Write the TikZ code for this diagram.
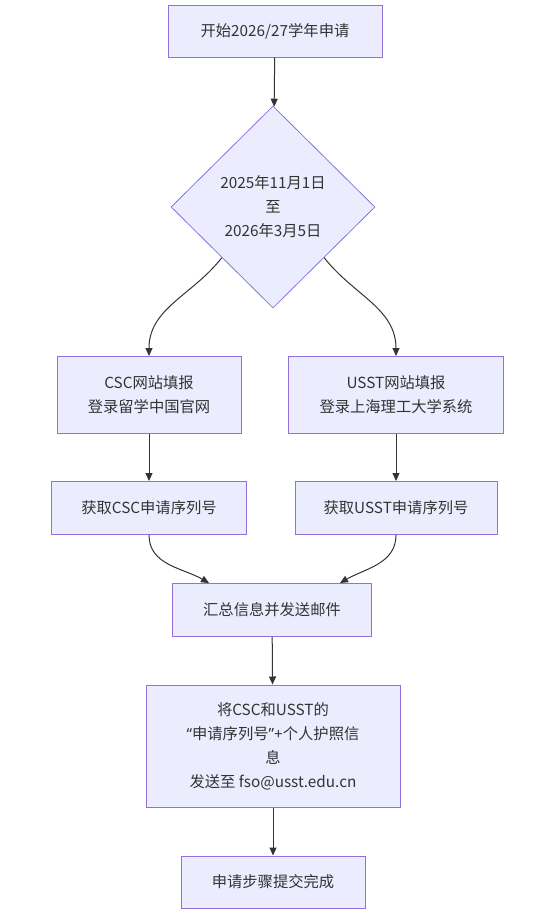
\documentclass[tikz,border=0pt]{standalone}
\usepackage{fontspec}
\setmainfont{Noto Sans CJK SC}
\newfontfamily\quotefont{Noto Sans}
\usetikzlibrary{arrows.meta,shapes.geometric}

\begin{document}
\begin{tikzpicture}[x=1pt,y=1pt,
  >={Triangle[length=8pt,width=7pt]},
  font=\fontsize{15.3}{24}\selectfont,
  process/.style={draw=boxline,fill=boxfill,line width=1pt,text=ink,
    minimum height=53pt,inner sep=0pt,align=center},
  decision/.style={diamond,draw=boxline,fill=boxfill,line width=0.8pt,text=ink,
    minimum width=204pt,minimum height=202pt,inner sep=0pt,align=center},
  flow/.style={->,draw=ink,line width=1pt}]
\definecolor{boxfill}{RGB}{236,236,255}
\definecolor{boxline}{RGB}{147,112,219}
\definecolor{ink}{RGB}{51,51,51}

\useasboundingbox (0,0) rectangle (543,-916);
\fill[white] (0,0) rectangle (543,-916);

% Start, date window and the two portals.
\node[process,minimum width=214pt,minimum height=52pt] (start) at (275,-31) {开始2026/27学年申请};
\node[decision] (window) at (273,-207) {2025年11月1日\\至\\2026年3月5日};
\node[process,minimum width=184pt,minimum height=77pt] (csc) at (149,-395) {CSC网站填报\\登录留学中国官网};
\node[process,minimum width=215pt,minimum height=77pt] (usst) at (396,-395) {USST网站填报\\登录上海理工大学系统};

% Application numbers, then the mail.
\node[process,minimum width=195pt] (cscid) at (149,-508) {获取CSC申请序列号};
\node[process,minimum width=202pt] (usstid) at (396,-508) {获取USST申请序列号};
\node[process,minimum width=199pt] (collect) at (272,-610) {汇总信息并发送邮件};
\node[process,minimum width=254pt,minimum height=122pt] (mail) at (273,-746)
  {将CSC和USST的\\{\quotefont “}申请序列号{\quotefont ”+}个人护照信\\息\\发送至 fso@usst.edu.cn};
\node[process,minimum width=184pt,minimum height=52pt] (done) at (273,-882) {申请步骤提交完成};

\draw[flow] (start) -- (window);
\draw[flow] (window.south west) to[out=-128,in=90] (csc.north);
\draw[flow] (window.south east) to[out=-52,in=90] (usst.north);
\draw[flow] (csc) -- (cscid);
\draw[flow] (usst) -- (usstid);
\draw[flow] (cscid.south) to[out=-90,in=150] ([xshift=-63pt]collect.north);
\draw[flow] (usstid.south) to[out=-90,in=30] ([xshift=68pt]collect.north);
\draw[flow] (collect) -- (mail);
\draw[flow] (mail) -- (done);
\end{tikzpicture}
\end{document}
